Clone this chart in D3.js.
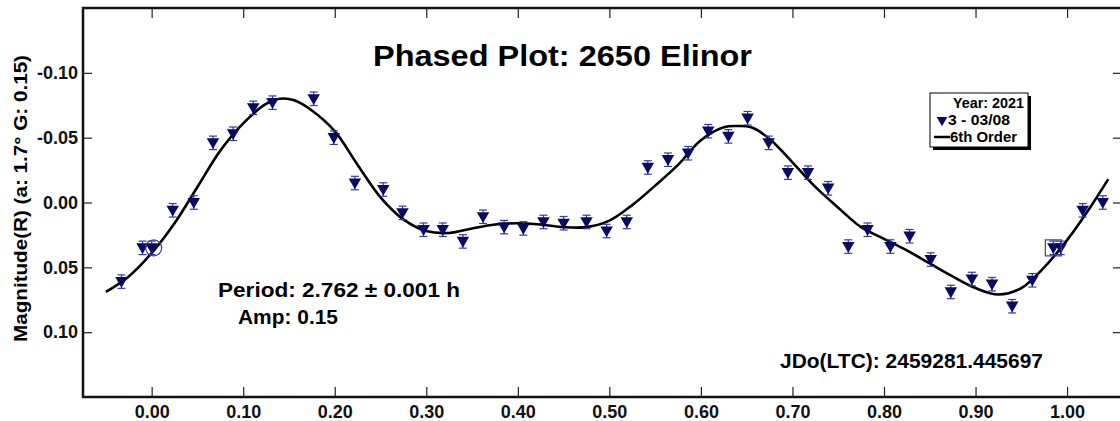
<!DOCTYPE html>
<html lang="en">
<head>
    <script src="https://d3js.org/d3.v7.min.js"></script>
    <title>Phased Plot: 2650 Elinor</title>
    <style>
        body { margin: 0; background: #fff; }
        svg { display: block; font-family: "Liberation Sans", Arial, sans-serif; font-weight: bold; }
    </style>
</head>
<body>
    <div id="container"></div>
    <script>
        // observations (phase, reduced magnitude)
        const phase = [-0.033, -0.010, 0.000, 0.023, 0.046, 0.067, 0.089, 0.111, 0.132, 0.177,
                       0.199, 0.222, 0.253, 0.274, 0.297, 0.318, 0.340, 0.362, 0.385, 0.406,
                       0.428, 0.450, 0.475, 0.497, 0.519, 0.542, 0.564, 0.586, 0.608, 0.630,
                       0.651, 0.674, 0.695, 0.717, 0.739, 0.761, 0.782, 0.807, 0.828, 0.851,
                       0.873, 0.896, 0.918, 0.940, 0.962, 0.985, 0.993, 1.017, 1.039];
        const mag = [0.061, 0.035, 0.035, 0.006, 0.000, -0.046, -0.053, -0.073, -0.077, -0.080,
                     -0.050, -0.015, -0.010, 0.008, 0.021, 0.021, 0.030, 0.011, 0.019, 0.020,
                     0.015, 0.016, 0.015, 0.022, 0.015, -0.027, -0.033, -0.038, -0.055, -0.051,
                     -0.065, -0.046, -0.023, -0.023, -0.011, 0.034, 0.021, 0.034, 0.026, 0.044,
                     0.069, 0.059, 0.063, 0.080, 0.060, 0.035, 0.035, 0.006, 0.000];
        const magErr = 0.0052;

        // 6th order fit
        const fitPhase = [-0.05, -0.025, 0.00, 0.025, 0.05, 0.075, 0.10, 0.125, 0.14, 0.155,
                          0.175, 0.20, 0.225, 0.25, 0.275, 0.30, 0.325, 0.35, 0.375, 0.40,
                          0.425, 0.45, 0.475, 0.50, 0.525, 0.55, 0.575, 0.60, 0.625, 0.64,
                          0.655, 0.675, 0.70, 0.725, 0.75, 0.775, 0.80, 0.825, 0.85, 0.875,
                          0.90, 0.925, 0.95, 0.975, 1.00, 1.025, 1.045];
        const fitMag = [0.069, 0.057, 0.039, 0.016, -0.012, -0.040, -0.061, -0.076, -0.080, -0.079,
                        -0.071, -0.055, -0.029, -0.004, 0.013, 0.022, 0.0235, 0.020, 0.017, 0.016,
                        0.017, 0.019, 0.019, 0.014, 0.002, -0.013, -0.029, -0.048, -0.058, -0.059,
                        -0.058, -0.049, -0.031, -0.012, 0.004, 0.019, 0.028, 0.037, 0.047, 0.057,
                        0.066, 0.071, 0.066, 0.050, 0.029, 0.004, -0.018];

        const xTicks = [0, 0.1, 0.2, 0.3, 0.4, 0.5, 0.6, 0.7, 0.8, 0.9, 1.0];
        const yTicks = [-0.10, -0.05, 0.00, 0.05, 0.10];

        const w = 1120, h = 421;
        const pLeft = 83, pRight = 1122, pTop = 8, pBottom = 397;

        const xScale = d3.scaleLinear().domain([-0.075, 1.06]).range([pLeft, pRight]);
        const yScale = d3.scaleLinear().domain([-0.15, 0.15]).range([pTop, pBottom]);

        const svg = d3.select("#container").append("svg").attr("width", w).attr("height", h);

        // axes (ticks point inward)
        const fmt = d => d.toFixed(2);
        const xAxis = d3.axisBottom(xScale).tickValues(xTicks).tickSize(-10).tickPadding(8).tickFormat(fmt);
        const yAxis = d3.axisLeft(yScale).tickValues(yTicks).tickSize(-9).tickPadding(5).tickFormat(fmt);

        const gx = svg.append("g").attr("transform", "translate(0," + pBottom + ")").call(xAxis);
        const gy = svg.append("g").attr("transform", "translate(" + pLeft + ",0)").call(yAxis);
        svg.append("g").attr("transform", "translate(0," + pTop + ")")
           .call(d3.axisTop(xScale).tickValues(xTicks).tickSize(-10).tickFormat(""));
        svg.append("g").attr("transform", "translate(" + pRight + ",0)")
           .call(d3.axisRight(yScale).tickValues(yTicks).tickSize(-9).tickFormat(""));

        svg.selectAll(".domain").remove();
        svg.selectAll(".tick line").attr("stroke", "#222").attr("stroke-width", 1.2);
        gx.selectAll("text").style("font-size", "18px").style("font-weight", "bold").attr("fill", "#111").style("font-family", "Liberation Sans, Arial");
        gy.selectAll("text").style("font-size", "18px").style("font-weight", "bold").attr("fill", "#111").style("font-family", "Liberation Sans, Arial");

        // frame
        svg.append("rect")
           .attr("x", pLeft).attr("y", pTop)
           .attr("width", pRight - pLeft).attr("height", pBottom - pTop)
           .attr("fill", "none").attr("stroke", "#111").attr("stroke-width", 2.5);

        // fit curve
        const line = d3.line()
            .x(d => xScale(d[0]))
            .y(d => yScale(d[1]))
            .curve(d3.curveCatmullRom);
        svg.append("path")
           .datum(d3.zip(fitPhase, fitMag))
           .attr("d", line)
           .attr("fill", "none")
           .attr("stroke", "#000")
           .attr("stroke-width", 2.6);

        // error bars
        const pts = d3.zip(phase, mag);
        const eb = svg.append("g").attr("stroke", "#3a3a9c").attr("stroke-width", 1.2);
        eb.selectAll("line.bar").data(pts).enter().append("line")
          .attr("x1", d => xScale(d[0])).attr("x2", d => xScale(d[0]))
          .attr("y1", d => yScale(d[1] - magErr)).attr("y2", d => yScale(d[1] + magErr));
        eb.selectAll("line.capt").data(pts).enter().append("line")
          .attr("x1", d => xScale(d[0]) - 4).attr("x2", d => xScale(d[0]) + 4)
          .attr("y1", d => yScale(d[1] - magErr)).attr("y2", d => yScale(d[1] - magErr));
        eb.selectAll("line.capb").data(pts).enter().append("line")
          .attr("x1", d => xScale(d[0]) - 4).attr("x2", d => xScale(d[0]) + 4)
          .attr("y1", d => yScale(d[1] + magErr)).attr("y2", d => yScale(d[1] + magErr));

        // markers
        const tri = d3.symbol().type(d3.symbolTriangle).size(68);
        svg.selectAll("path.dot").data(pts).enter().append("path")
           .attr("class", "dot")
           .attr("d", tri)
           .attr("transform", d => "translate(" + xScale(d[0]) + "," + (yScale(d[1]) - 1) + ") rotate(180)")
           .attr("fill", "#0a0a66");

        // first / last point markers
        svg.append("circle")
           .attr("cx", xScale(phase[2]) + 2).attr("cy", yScale(mag[2]))
           .attr("r", 8).attr("fill", "none").attr("stroke", "#3a3aaa").attr("stroke-width", 1.2);
        svg.append("rect")
           .attr("x", xScale(phase[45]) - 8).attr("y", yScale(mag[45]) - 8)
           .attr("width", 16).attr("height", 16)
           .attr("fill", "none").attr("stroke", "#3a3aaa").attr("stroke-width", 1.2);

        // texts
        function label(x, y, size, len, str) {
            return svg.append("text").attr("x", x).attr("y", y)
                .style("font-size", size + "px")
                .attr("textLength", len).attr("lengthAdjust", "spacingAndGlyphs")
                .text(str);
        }
        label(373, 66, 29, 379, "Phased Plot: 2650 Elinor");
        label(218, 297, 20, 242, "Period: 2.762 \u00b1 0.001 h");
        label(238, 324, 20, 100, "Amp: 0.15");
        label(780, 368, 20, 263, "JDo(LTC): 2459281.445697");
        svg.append("text")
           .attr("transform", "translate(27,342) rotate(-90)")
           .style("font-size", "19px")
           .attr("textLength", 287).attr("lengthAdjust", "spacingAndGlyphs")
           .text("Magnitude(R)   (a: 1.7\u00b0  G: 0.15)");

        // legend
        const lg = svg.append("g").attr("transform", "translate(930,93)");
        lg.append("rect").attr("x", 3).attr("y", 3).attr("width", 98).attr("height", 54).attr("fill", "#000");
        lg.append("rect").attr("width", 98).attr("height", 54).attr("fill", "#fff").attr("stroke", "#000").attr("stroke-width", 1);
        lg.append("text").attr("x", 23).attr("y", 15).style("font-size", "14px")
          .attr("textLength", 71).attr("lengthAdjust", "spacingAndGlyphs").text("Year: 2021");
        lg.append("path").attr("d", d3.symbol().type(d3.symbolTriangle).size(50))
          .attr("transform", "translate(12,27) rotate(180)").attr("fill", "#0a0a66");
        lg.append("text").attr("x", 18).attr("y", 32).style("font-size", "14px")
          .attr("textLength", 62).attr("lengthAdjust", "spacingAndGlyphs").text("3 - 03/08");
        lg.append("line").attr("x1", 4).attr("x2", 20).attr("y1", 44).attr("y2", 44).attr("stroke", "#000").attr("stroke-width", 2.5);
        lg.append("text").attr("x", 20).attr("y", 49).style("font-size", "14px")
          .attr("textLength", 67).attr("lengthAdjust", "spacingAndGlyphs").text("6th Order");
    </script>
</body>
</html>
